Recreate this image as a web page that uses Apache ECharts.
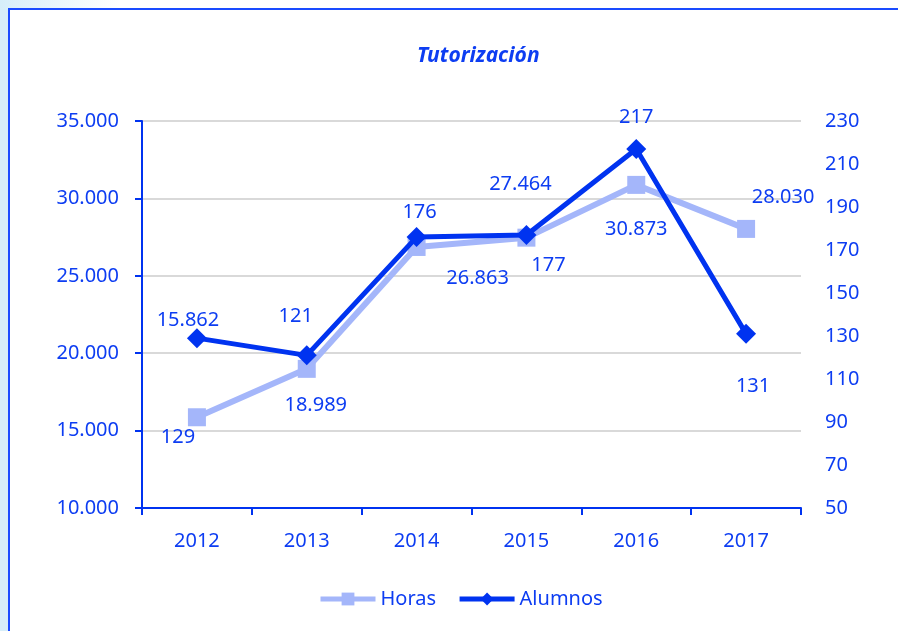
<!DOCTYPE html>
<html>
<head>
<meta charset="utf-8">
<script src="https://cdn.jsdelivr.net/npm/echarts@6/dist/echarts.min.js"></script>
<style>
  html, body { margin: 0; padding: 0; background: #fff; }
  #chart { width: 898px; height: 631px; }
</style>
</head>
<body>
<div id="chart"></div>
<script>
const years = ['2012', '2013', '2014', '2015', '2016', '2017']
const horas = [15862, 18989, 26863, 27464, 30873, 28030]
const alumnos = [129, 121, 176, 177, 217, 131]

// offsets of the hand-placed labels (px, from each point)
const horasLabelOffset = [[-9, -97], [9, 36], [61, 31], [-6, -53], [0, 44], [37, -32]]
const alumnosLabelOffset = [[-19, 99], [-11, -39], [3, -25], [22, 30], [0, -32], [7, 52]]

const textBlue = '#0D3DF2'
const darkBlue = '#0033F0'
const lightBlue = '#A4B6FA'

const fmt = v => v.toLocaleString('de-DE')

const chart = echarts.init(document.getElementById('chart'))

const labelBase = {
  show: true,
  position: 'inside',
  align: 'center',
  verticalAlign: 'middle',
  color: textBlue,
  fontSize: 20,
  fontFamily: 'Noto Sans'
}

const option = {
  animation: false,
  textStyle: { fontFamily: 'Noto Sans', color: textBlue },
  graphic: [
    {
      type: 'rect', z: -10, silent: true,
      shape: { x: 0, y: 0, width: 9, height: 631 },
      style: { fill: '#D6EEF9' }
    },
    {
      type: 'rect', z: -9, silent: true,
      shape: { x: 0, y: 0, width: 120, height: 9 },
      style: {
        fill: new echarts.graphic.LinearGradient(0, 0, 1, 0, [
          { offset: 0, color: '#D6EEF9' },
          { offset: 1, color: '#ffffff' }
        ])
      }
    },
    {
      type: 'rect', z: -8, silent: true,
      shape: { x: 9, y: 9, width: 900, height: 700 },
      style: { fill: '#fff', stroke: '#1A4BFF', lineWidth: 2 }
    }
  ],
  title: {
    text: 'Tutorización',
    left: 412,
    top: 41,
    textStyle: {
      color: textBlue,
      fontSize: 21,
      fontWeight: 'bold',
      fontStyle: 'italic',
      fontFamily: 'Noto Sans'
    }
  },
  legend: {
    left: 313,
    top: 584,
    itemWidth: 55,
    itemHeight: 16,
    itemGap: 21,
    lineStyle: { width: 5 },
    textStyle: { color: textBlue, fontSize: 20 },
    data: ['Horas', 'Alumnos']
  },
  grid: { left: 142, right: 97, top: 121, bottom: 123 },
  xAxis: {
    type: 'category',
    data: years,
    boundaryGap: true,
    axisLine: { lineStyle: { color: darkBlue, width: 2 } },
    axisTick: { show: true, length: 7, lineStyle: { color: darkBlue, width: 2 } },
    axisLabel: { color: textBlue, fontSize: 20, margin: 23 }
  },
  yAxis: [
    {
      type: 'value',
      min: 10000,
      max: 35000,
      interval: 5000,
      axisLine: { show: true, lineStyle: { color: darkBlue, width: 2 } },
      axisTick: { show: true, length: 7, lineStyle: { color: darkBlue, width: 2 } },
      axisLabel: { color: textBlue, fontSize: 20, margin: 23, formatter: fmt },
      splitLine: { show: true, lineStyle: { color: '#D9D9D9', width: 2 } }
    },
    {
      type: 'value',
      min: 50,
      max: 230,
      interval: 20,
      position: 'right',
      axisLine: { show: false },
      axisTick: { show: false },
      axisLabel: { color: textBlue, fontSize: 20, margin: 24 },
      splitLine: { show: false }
    }
  ],
  series: [
    {
      name: 'Horas',
      type: 'line',
      yAxisIndex: 0,
      symbol: 'rect',
      symbolSize: 18,
      itemStyle: { color: lightBlue },
      lineStyle: { color: lightBlue, width: 6 },
      z: 2,
      data: horas.map((v, i) => ({
        value: v,
        label: Object.assign({}, labelBase, { offset: horasLabelOffset[i], formatter: p => fmt(p.value) })
      }))
    },
    {
      name: 'Alumnos',
      type: 'line',
      yAxisIndex: 1,
      symbol: 'diamond',
      symbolSize: 20,
      itemStyle: { color: darkBlue },
      lineStyle: { color: darkBlue, width: 5 },
      z: 3,
      data: alumnos.map((v, i) => ({
        value: v,
        label: Object.assign({}, labelBase, { offset: alumnosLabelOffset[i] })
      }))
    }
  ]
}

chart.setOption(option)
</script>
</body>
</html>
